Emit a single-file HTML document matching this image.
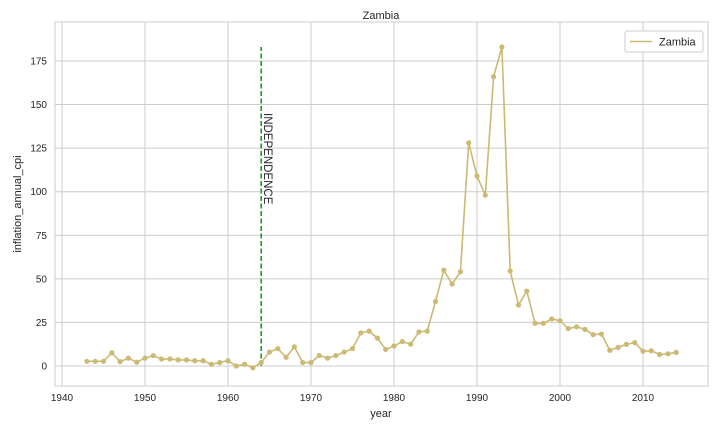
<!DOCTYPE html>
<html><head><meta charset="utf-8"><style>
body{margin:0;background:#fff;font-family:"Liberation Sans",sans-serif}
</style></head><body>
<svg id="chart" width="720" height="432" xmlns="http://www.w3.org/2000/svg" font-family="Liberation Sans, sans-serif">
<rect width="720" height="432" fill="#fff"/>
<text x="381" y="19" text-anchor="middle" font-size="11" fill="#262626">Zambia</text>
<g id="grid"></g>
<g id="axes"></g>
<g id="series"></g>
<rect x="55" y="22" width="653" height="364" fill="none" stroke="#cccccc" stroke-width="1"/>
<text x="381" y="417" text-anchor="middle" font-size="11" fill="#262626">year</text>
<text transform="translate(21,204) rotate(-90)" text-anchor="middle" font-size="11" fill="#262626">inflation_annual_cpi</text>
<g>
<rect x="625" y="31" width="78" height="21" rx="2" fill="#fff" stroke="#cccccc"/>
<line x1="630" y1="41.5" x2="652" y2="41.5" stroke="#ccb974" stroke-width="1.6"/>
<text x="659" y="45.5" font-size="11" fill="#262626">Zambia</text>
</g>
</svg>
<script>
const years=[];for(let y=1943;y<=2014;y++)years.push(y);
const values=[2.7,2.7,2.7,7.6,2.5,4.5,2.2,4.5,6,4,4,3.5,3.5,3,3,1,2,3,0,1,-1,2,8,10,5,11,2,2,6,4.5,6,8,10,19,20,16,9.5,11.5,14,12.5,19.5,20,37,55,47,54,128,109,98,166,183,54.5,35,43,24.5,24.5,27,26,21.5,22.5,21,18,18.3,9,10.7,12.4,13.4,8.5,8.7,6.6,7,7.8];
const xTicks=[1940,1950,1960,1970,1980,1990,2000,2010];
const yTicks=[0,25,50,75,100,125,150,175];
const independenceYear=1964;
const independenceTop=183;
const NS="http://www.w3.org/2000/svg";
const X=v=>62+(v-1940)*8.3;
const Y=v=>366-v*1.743;
function mk(tag,attrs,parent){const e=document.createElementNS(NS,tag);for(const k in attrs)e.setAttribute(k,attrs[k]);parent.appendChild(e);return e;}
const grid=document.getElementById('grid'),axes=document.getElementById('axes'),series=document.getElementById('series');
xTicks.forEach(t=>{
 const l=mk('line',{x1:X(t),x2:X(t),y1:22,y2:386,stroke:'#cccccc','stroke-width':1},grid);
 
 
 const tx=mk('text',{x:X(t),y:401,'text-anchor':'middle','font-size':10,fill:'#262626'},axes);
 tx.textContent=t;
 
 
});
yTicks.forEach(t=>{
 const l=mk('line',{x1:55,x2:708,y1:Y(t),y2:Y(t),stroke:'#cccccc','stroke-width':1},grid);
 
 
 const tx=mk('text',{x:47,y:Y(t)+3.5,'text-anchor':'end','font-size':10,fill:'#262626'},axes);
 tx.textContent=t;
 
 
});
const ind=mk('line',{x1:X(independenceYear),x2:X(independenceYear),y1:Y(0),y2:Y(independenceTop),stroke:'#1f9a2a','stroke-width':1.6,'stroke-dasharray':'5,2.5'},series);


const it=mk('text',{transform:`translate(${X(independenceYear)+3},113) rotate(90)`,'font-size':11.5,fill:'#262626'},series);
it.textContent='INDEPENDENCE';


const pts=years.map((y,i)=>X(y)+','+Y(values[i])).join(' ');
const pl=mk('polyline',{points:pts,fill:'none',stroke:'#ccb974','stroke-width':1.6},series);


years.forEach((y,i)=>{
 const c=mk('circle',{cx:X(y),cy:Y(values[i]),r:2.6,fill:'#ccb974'},series);
 
 
});
</script>
</body></html>
